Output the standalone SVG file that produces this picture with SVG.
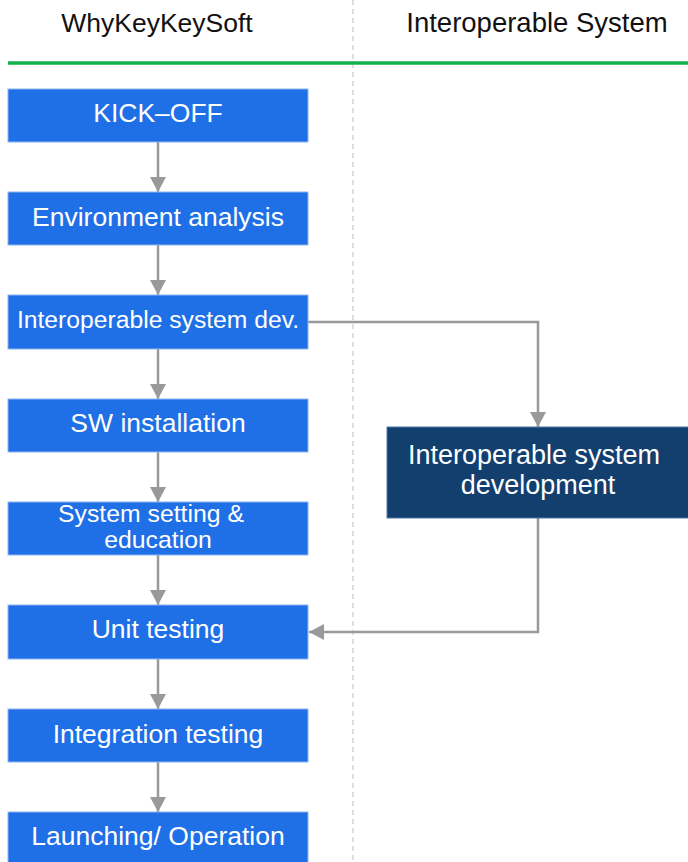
<svg xmlns="http://www.w3.org/2000/svg" width="688" height="862" viewBox="0 0 688 862">
  <defs>
    <marker id="arrow" markerWidth="16" markerHeight="16" viewBox="0 0 16 16" refX="15" refY="8" orient="auto" markerUnits="userSpaceOnUse">
      <path d="M0,0 L15,8 L0,16 Z" fill="#999999"/>
    </marker>
    <style>
      text { font-family: "Liberation Sans", Arial, sans-serif; }
      .hdr { font-size: 26.5px; fill: #111111; text-anchor: middle; }
      .step rect { fill: #1f6fe6; stroke: #8db6ef; stroke-width: 1; }
      .step text { fill: #ffffff; font-size: 26.5px; text-anchor: middle; }
      .ext rect { fill: #133f6f; stroke: #4f78a6; stroke-width: 1; }
      .ext text { fill: #ffffff; font-size: 27px; text-anchor: middle; }
      .conn { fill: none; stroke: #999999; stroke-width: 2.5; marker-end: url(#arrow); }
    </style>
  </defs>

  <rect width="688" height="862" fill="#ffffff"/>

  <!-- lane divider and header rule -->
  <line x1="353" y1="0" x2="353" y2="862" stroke="#bdbdbd" stroke-width="1" stroke-dasharray="5,4"/>
  <line x1="8" y1="63" x2="688" y2="63" stroke="#12b04c" stroke-width="3.5"/>

  <text class="hdr" x="157" y="32">WhyKeyKeySoft</text>
  <text class="hdr" x="537" y="32" style="font-size:27.5px">Interoperable System</text>

  <!-- connectors -->
  <g id="connectors">
    <line class="conn" x1="158" y1="142" x2="158" y2="192"/>
    <line class="conn" x1="158" y1="245" x2="158" y2="295"/>
    <line class="conn" x1="158" y1="349" x2="158" y2="399"/>
    <line class="conn" x1="158" y1="452" x2="158" y2="502"/>
    <line class="conn" x1="158" y1="555" x2="158" y2="605"/>
    <line class="conn" x1="158" y1="659" x2="158" y2="709"/>
    <line class="conn" x1="158" y1="762" x2="158" y2="812"/>
    <polyline class="conn" points="308,322 538,322 538,427"/>
    <polyline class="conn" points="538,518 538,632 309,632"/>
  </g>

  <!-- process steps -->
  <g id="kickoff" class="step">
    <rect x="8" y="89" width="300" height="53"/>
    <text x="158" y="122">KICK–OFF</text>
  </g>
  <g id="env-analysis" class="step">
    <rect x="8" y="192" width="300" height="53"/>
    <text x="158" y="226">Environment analysis</text>
  </g>
  <g id="interop-dev" class="step">
    <rect x="8" y="295" width="300" height="54"/>
    <text x="158" y="328" style="font-size:24.7px">Interoperable system dev.</text>
  </g>
  <g id="sw-install" class="step">
    <rect x="8" y="399" width="300" height="53"/>
    <text x="158" y="432">SW installation</text>
  </g>
  <g id="setting-education" class="step">
    <rect x="8" y="502" width="300" height="53"/>
    <text x="151" y="522" style="font-size:24.8px">System setting &amp;</text>
    <text x="158" y="548" style="font-size:24.8px">education</text>
  </g>
  <g id="unit-testing" class="step">
    <rect x="8" y="605" width="300" height="54"/>
    <text x="158" y="638">Unit testing</text>
  </g>
  <g id="integration-testing" class="step">
    <rect x="8" y="709" width="300" height="53"/>
    <text x="158" y="743">Integration testing</text>
  </g>
  <g id="launching" class="step">
    <rect x="8" y="812" width="300" height="54"/>
    <text x="158" y="845">Launching/ Operation</text>
  </g>

  <!-- external system work -->
  <g id="interop-development" class="ext">
    <rect x="387" y="427" width="306" height="91"/>
    <text x="534" y="464">Interoperable system</text>
    <text x="538" y="494">development</text>
  </g>
</svg>
